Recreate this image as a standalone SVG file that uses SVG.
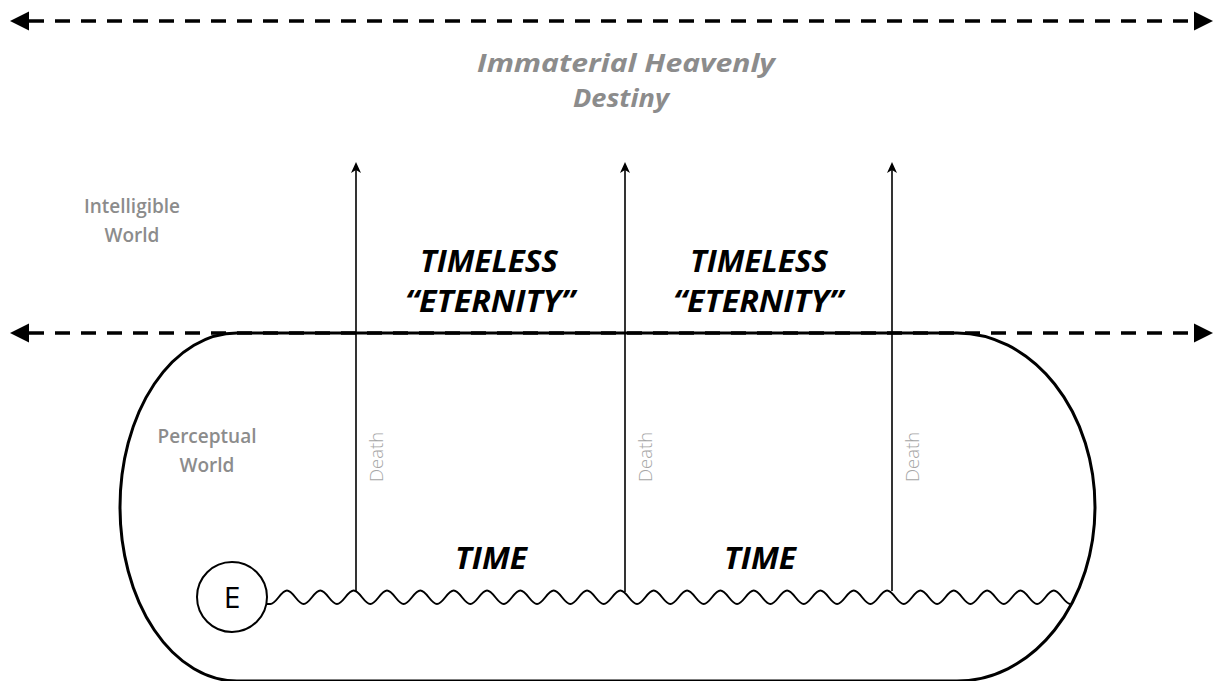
<svg xmlns="http://www.w3.org/2000/svg" width="1222" height="681" viewBox="0 0 1222 681">
<style>
.dash{fill:none;stroke:#000;stroke-width:3.5;stroke-dasharray:15 11}
.thin{fill:none;stroke:#000;stroke-width:1.6}
.frame{fill:none;stroke:#000;stroke-width:3}
.wave{fill:none;stroke:#000;stroke-width:2}
.title{font-family:"Open Sans","Noto Sans",sans-serif;font-weight:700;font-style:italic;font-size:25px;fill:#8c8c8c;text-anchor:middle}
.world{font-family:"Open Sans","Noto Sans",sans-serif;font-weight:600;font-size:19px;fill:#8c8c8c;text-anchor:middle}
.big{font-family:"Open Sans","Noto Sans",sans-serif;font-weight:700;font-style:italic;font-size:31px;fill:#000;text-anchor:middle}
.death{font-family:"Open Sans","Noto Sans",sans-serif;font-weight:300;font-size:18.5px;fill:#a6a6a6;text-anchor:middle}
.e{font-family:"Open Sans","Noto Sans",sans-serif;font-weight:400;font-size:30px;fill:#000;text-anchor:middle}
</style>
<defs>
<marker id="bigHead" markerUnits="userSpaceOnUse" viewBox="0 -11 20 22" refX="0" refY="0" markerWidth="20" markerHeight="22" orient="auto-start-reverse">
<path d="M0,-9.5 L19,0 L0,9.5 z" fill="#000"/>
</marker>
<marker id="smallHead" markerUnits="userSpaceOnUse" viewBox="0 -6 12 12" refX="3" refY="0" markerWidth="12" markerHeight="12" orient="auto">
<path d="M0,-5 L11,0 L0,5 L3,0 z" fill="#000"/>
</marker>
</defs>
<rect width="1222" height="681" fill="#fff"/>

<g id="perceptual-world-region">
<path class="frame" d="M237,333 L957,333 A138,174 0 0 1 957,681 L237,681 A117,174 0 0 1 237,333 Z"/>
</g>

<g id="connectors">
<line class="dash" x1="29" y1="21" x2="1194" y2="21" marker-start="url(#bigHead)" marker-end="url(#bigHead)"/>
<line class="dash" x1="29" y1="333" x2="1194" y2="333" marker-start="url(#bigHead)" marker-end="url(#bigHead)"/>
<line class="thin" x1="356" y1="591" x2="356" y2="170" marker-end="url(#smallHead)"/>
<line class="thin" x1="625" y1="592" x2="625" y2="170" marker-end="url(#smallHead)"/>
<line class="thin" x1="892" y1="591" x2="892" y2="170" marker-end="url(#smallHead)"/>
<path class="wave" d="M266,604 H270.3 c6,0 10.67,-13.5 16.67,-13.5 s10.67,13.5 16.67,13.5
s10.67,-13.5 16.67,-13.5 s10.67,13.5 16.67,13.5 s10.67,-13.5 16.67,-13.5 s10.67,13.5 16.67,13.5
s10.67,-13.5 16.67,-13.5 s10.67,13.5 16.67,13.5 s10.67,-13.5 16.67,-13.5 s10.67,13.5 16.67,13.5
s10.67,-13.5 16.67,-13.5 s10.67,13.5 16.67,13.5 s10.67,-13.5 16.67,-13.5 s10.67,13.5 16.67,13.5
s10.67,-13.5 16.67,-13.5 s10.67,13.5 16.67,13.5 s10.67,-13.5 16.67,-13.5 s10.67,13.5 16.67,13.5
s10.67,-13.5 16.67,-13.5 s10.67,13.5 16.67,13.5 s10.67,-13.5 16.67,-13.5 s10.67,13.5 16.67,13.5
s10.67,-13.5 16.67,-13.5 s10.67,13.5 16.67,13.5 s10.67,-13.5 16.67,-13.5 s10.67,13.5 16.67,13.5
s10.67,-13.5 16.67,-13.5 s10.67,13.5 16.67,13.5 s10.67,-13.5 16.67,-13.5 s10.67,13.5 16.67,13.5
s10.67,-13.5 16.67,-13.5 s10.67,13.5 16.67,13.5 s10.67,-13.5 16.67,-13.5 s10.67,13.5 16.67,13.5
s10.67,-13.5 16.67,-13.5 s10.67,13.5 16.67,13.5 s10.67,-13.5 16.67,-13.5 s10.67,13.5 16.67,13.5
s10.67,-13.5 16.67,-13.5 s10.67,13.5 16.67,13.5 s10.67,-13.5 16.67,-13.5 s10.67,13.5 16.67,13.5
s10.67,-13.5 16.67,-13.5 s10.67,13.5 16.67,13.5 s10.67,-13.5 16.67,-13.5 s10.67,13.5 16.67,13.5
s10.67,-13.5 16.67,-13.5 s10.67,13.5 16.67,13.5"/>
</g>

<g id="title">
<text class="title" x="626" y="72" textLength="298" lengthAdjust="spacingAndGlyphs">Immaterial Heavenly</text>
<text class="title" x="621" y="107" textLength="96" lengthAdjust="spacingAndGlyphs">Destiny</text>
</g>

<g id="intelligible-world-label">
<text class="world" x="132" y="213">Intelligible</text>
<text class="world" x="132" y="242">World</text>
</g>

<g id="perceptual-world-label">
<text class="world" x="207" y="443">Perceptual</text>
<text class="world" x="207" y="472">World</text>
</g>

<g id="eternity-1">
<text class="big" x="489" y="272" textLength="138" lengthAdjust="spacingAndGlyphs">TIMELESS</text>
<text class="big" x="490" y="312" textLength="170" lengthAdjust="spacingAndGlyphs">“ETERNITY”</text>
</g>
<g id="eternity-2">
<text class="big" x="759" y="272" textLength="138" lengthAdjust="spacingAndGlyphs">TIMELESS</text>
<text class="big" x="758" y="312" textLength="170" lengthAdjust="spacingAndGlyphs">“ETERNITY”</text>
</g>

<g id="time-1"><text class="big" x="491" y="569" textLength="72" lengthAdjust="spacingAndGlyphs">TIME</text></g>
<g id="time-2"><text class="big" x="760" y="569" textLength="72" lengthAdjust="spacingAndGlyphs">TIME</text></g>

<g id="death-1"><text class="death" transform="translate(383,457) rotate(-90)">Death</text></g>
<g id="death-2"><text class="death" transform="translate(652,457) rotate(-90)">Death</text></g>
<g id="death-3"><text class="death" transform="translate(919,457) rotate(-90)">Death</text></g>

<g id="node-e">
<circle cx="232" cy="597" r="35" fill="#fff" stroke="#000" stroke-width="2"/>
<text class="e" x="232" y="608">E</text>
</g>
</svg>
